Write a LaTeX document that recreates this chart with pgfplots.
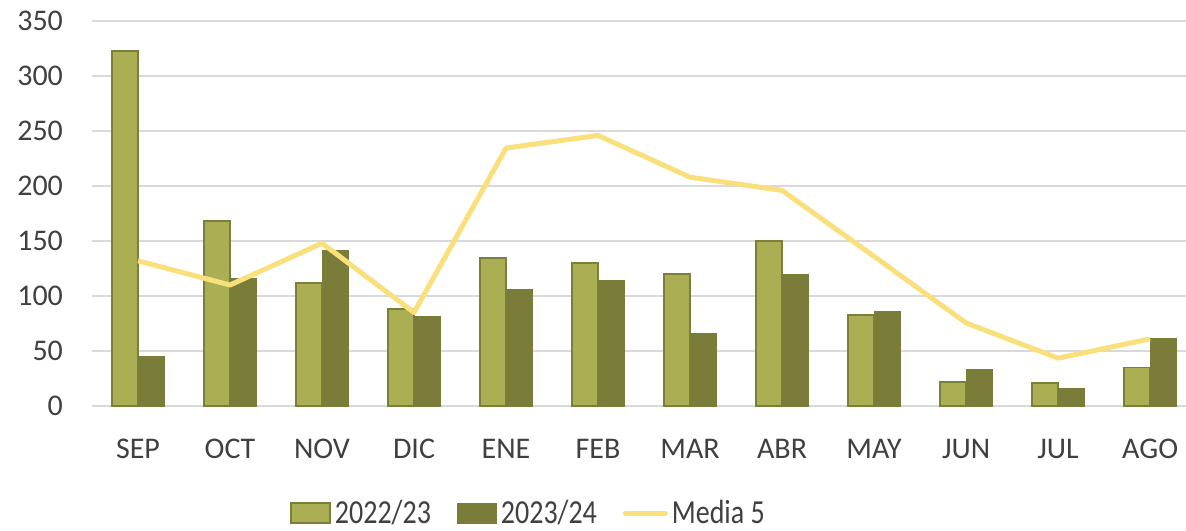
\documentclass[border=0pt]{standalone}
\usepackage{pgfplots}
\pgfplotsset{compat=1.18}
\usepackage{graphicx}
\usepackage{fontspec}
\setmainfont{Carlito}

\definecolor{lightolive}{HTML}{AAAF53}
\definecolor{lightedge}{HTML}{7A803A}
\definecolor{darkolive}{HTML}{7A7D3A}
\definecolor{media}{HTML}{F9E07C}
\definecolor{txt}{HTML}{404040}
\definecolor{gridc}{HTML}{D9D9D9}

\pgfplotsset{
  barlegend/.style={legend image code/.code={\draw[##1] (0pt,-5pt) rectangle (19.5pt,5pt);}},
  linelegend/.style={legend image code/.code={\draw[##1, line cap=round] (0pt,0pt) -- (20pt,0pt);}},
}
\newcommand{\tall}[1]{\scalebox{1}[1.2]{#1}}

\begin{document}
\begin{tikzpicture}
\begin{axis}[
  scale only axis,
  width=547pt, height=192.5pt,
  xmin=-0.5, xmax=11.39,
  ymin=0, ymax=350,
  ytick={0,50,...,350},
  xtick={0,...,11},
  xticklabels={SEP,OCT,NOV,DIC,ENE,FEB,MAR,ABR,MAY,JUN,JUL,AGO},
  axis line style={draw=none},
  major tick length=0pt,
  ymajorgrids=true,
  grid style={gridc, line width=0.8pt},
  tick label style={font=\fontsize{15}{18}\selectfont, text=txt},
  /pgf/number format/assume math mode=true,
  yticklabel style={xshift=-11pt},
  xticklabel style={yshift=-13pt},
  ybar=0pt, bar width=13pt,
  legend style={
    at={(0.40,-0.278)}, anchor=center,
    legend columns=3, draw=none,
    font=\fontsize{14}{17}\selectfont, text=txt,
    /tikz/every even column/.append style={column sep=11pt},
    inner sep=0pt,
    nodes={inner xsep=2pt},
  },
]
\addplot[fill=lightolive, draw=lightedge, line width=0.8pt, barlegend] coordinates {
  (0,323) (1,168) (2,112) (3,88) (4,134.5) (5,130)
  (6,120) (7,150) (8,82.5) (9,22) (10,21) (11,35)
};
\addplot[fill=darkolive, draw=darkolive, line width=0.5pt, barlegend] coordinates {
  (0,45) (1,115.5) (2,141) (3,81) (4,105.5) (5,114.5)
  (6,65.5) (7,120) (8,85.5) (9,33) (10,16) (11,61.5)
};
\addplot[sharp plot, media, line width=2.5pt, line join=round, linelegend]
  coordinates {
  (0,132) (1,110) (2,148) (3,85) (4,234.5) (5,246)
  (6,208) (7,196) (8,136) (9,75.5) (10,43.5) (11,61)
};
\legend{\tall{2022/23}, \tall{2023/24}, \tall{Media 5}}
\end{axis}
% fix the page to the reference frame
\pgfresetboundingbox
\path (-46pt,-62pt) rectangle (547pt,203pt);
\end{tikzpicture}
\end{document}
